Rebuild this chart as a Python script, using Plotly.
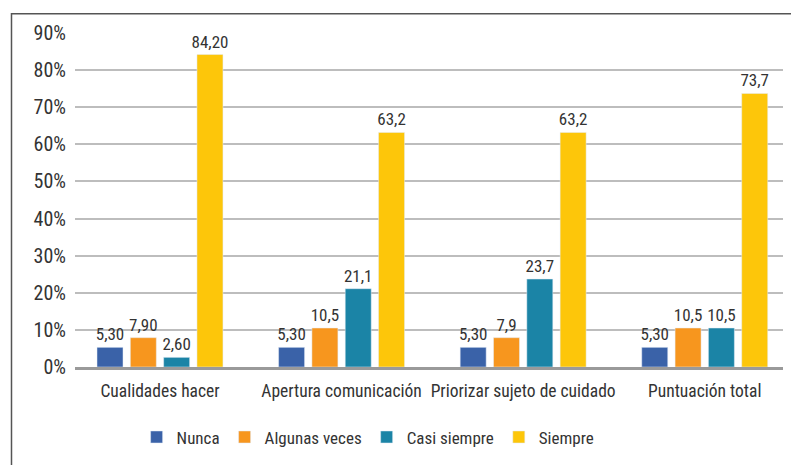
import plotly.graph_objects as go

categories = ["Cualidades hacer", "Apertura comunicación", "Priorizar sujeto de cuidado", "Puntuación total"]
series_names = ["Nunca", "Algunas veces", "Casi siempre", "Siempre"]
nunca = [5.3, 5.3, 5.3, 5.3]
algunas = [7.9, 10.5, 7.9, 10.5]
casi = [2.6, 21.1, 23.7, 10.5]
siempre = [84.2, 63.2, 63.2, 73.7]
nunca_labels = ["5,30", "5,30", "5,30", "5,30"]
algunas_labels = ["7,90", "10,5", "7,9", "10,5"]
casi_labels = ["2,60", "21,1", "23,7", "10,5"]
siempre_labels = ["84,20", "63,2", "63,2", "73,7"]
y_ticks = [0, 10, 20, 30, 40, 50, 60, 70, 80, 90]
y_tick_text = ["0%", "10%", "20%", "30%", "40%", "50%", "60%", "70%", "80%", "90%"]

colors = ["#3A62A8", "#F7961E", "#1B84A6", "#FDC60A"]
FONT = "Roboto Condensed, sans-serif"
TXT = "#333333"

fig = go.Figure()
for name, vals, labs, col in zip(series_names,
                                 [nunca, algunas, casi, siempre],
                                 [nunca_labels, algunas_labels, casi_labels, siempre_labels],
                                 colors):
    fig.add_trace(go.Bar(
        x=categories, y=vals, name=name, marker_color=col,
        text=labs, textposition="outside", cliponaxis=False, constraintext="none",
        textfont=dict(size=17, color=TXT, family=FONT),
    ))

fig.update_layout(
    width=791, height=457,
    margin=dict(l=67, r=16, t=25, b=98, autoexpand=False),
    paper_bgcolor="white", plot_bgcolor="white",
    barmode="group", bargap=0.266, bargroupgap=0.22,
    font=dict(family=FONT, size=17, color=TXT),
    showlegend=True,
    legend=dict(orientation="h", x=0.414, xanchor="center", y=-0.157, yanchor="top",
                font=dict(size=17, color=TXT, family=FONT),
                traceorder="normal"),
    xaxis=dict(range=[-0.468, 3.431], showline=True, linecolor="#9A9A9A", linewidth=3,
               ticks="", showgrid=False, tickangle=0, automargin=False,
               ticklabelstandoff=6, tickfont=dict(size=17.5, color=TXT)),
    yaxis=dict(range=[0, 90], tickvals=y_ticks, ticktext=y_tick_text, showgrid=True,
               gridcolor="#BDBDBD", gridwidth=1.5, zeroline=False, showline=False,
               ticks="", automargin=False, ticklabelstandoff=8,
               tickfont=dict(size=20, color=TXT)),
    shapes=[dict(type="rect", xref="paper", yref="paper",
                 x0=-0.0897, x1=1.0212, y0=-0.4, y1=1.058,
                 line=dict(color="#555555", width=1.5), layer="below")],
)

fig.write_html("out.html")
